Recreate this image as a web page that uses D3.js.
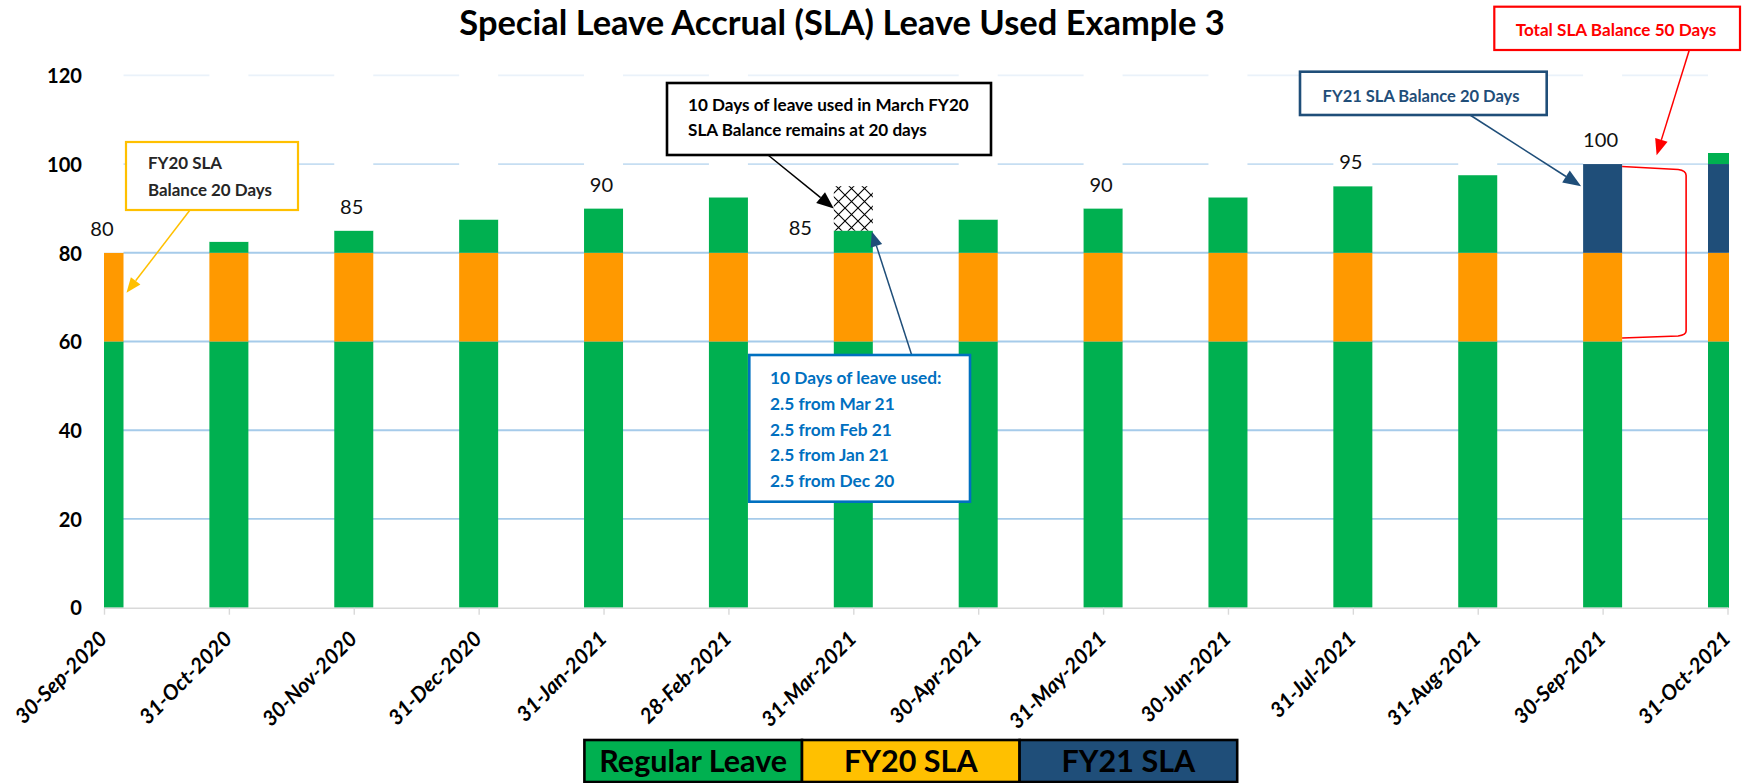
<!DOCTYPE html>
<html><head><meta charset="utf-8">
<script src="https://cdn.jsdelivr.net/npm/d3@7"></script>
<style>
html,body{margin:0;padding:0;background:#fff;}
svg{display:block;font-family:Lato,'Open Sans',sans-serif;}
</style></head><body>
<svg id="chart" width="1752" height="783"></svg>
<script>
// ---------- data ----------
const categories = ['30-Sep-2020','31-Oct-2020','30-Nov-2020','31-Dec-2020','31-Jan-2021','28-Feb-2021','31-Mar-2021','30-Apr-2021','31-May-2021','30-Jun-2021','31-Jul-2021','31-Aug-2021','30-Sep-2021','31-Oct-2021'];
const regularBase    = [60,60,60,60,60,60,60,60,60,60,60,60,60,60];
const fy20SLA        = [20,20,20,20,20,20,20,20,20,20,20,20,20,20];
const fy21SLA        = [0,0,0,0,0,0,0,0,0,0,0,0,20,20];
const regularAccrued = [0,2.5,5,7.5,10,12.5,5,7.5,10,12.5,15,17.5,0,2.5];
const leaveUsed      = [0,0,0,0,0,0,10,0,0,0,0,0,0,0];
const totalLabels    = [80,null,85,null,90,null,85,null,90,null,95,null,100,null];
const yTicks = [0,20,40,60,80,100,120];
const legendNames = ['Regular Leave','FY20 SLA','FY21 SLA'];
const titleText = 'Special Leave Accrual (SLA) Leave Used Example 3';

// ---------- setup ----------
const svg = d3.select('#chart');
const left = 104, right = 1727.5, bottomY = 607.7, topY = 75.3;
const bw = 39;
const x = d3.scalePoint().domain(categories).range([left, right]).padding(0);
const y = d3.scaleLinear().domain([0,120]).range([bottomY, topY]);

const C = {green:'#00B050', orange:'#FF9900', navy:'#1F4E79', gold:'#FFC000', blue:'#0070C0', red:'#FF0000'};

const defs = svg.append('defs');
defs.append('clipPath').attr('id','plotclip').append('rect')
  .attr('x',left).attr('y',0).attr('width',right-left+1.5).attr('height',783);
const pat = defs.append('pattern').attr('id','hatch').attr('patternUnits','userSpaceOnUse')
  .attr('width',13).attr('height',13).attr('x',0).attr('y',0);
pat.append('rect').attr('width',13).attr('height',13).attr('fill','#fff');
pat.append('path').attr('d','M0,0L13,13M13,0L0,13').attr('stroke','#000').attr('stroke-width',1.1);

function fit(sel, node, target){
  const fs = parseFloat(sel.attr('font-size'));
  const w = node.getComputedTextLength();
  sel.attr('font-size', fs*target/w);
}

// ---------- gridlines ----------
const gridColor = v => v===120 ? '#EAF2FA' : (v===100 ? '#C6DEF2' : '#A6CBEA');
svg.append('g').selectAll('line').data(yTicks.filter(v=>v>0)).join('line')
  .attr('x1',left).attr('x2',right).attr('y1',d=>y(d)).attr('y2',d=>y(d))
  .attr('stroke',gridColor).attr('stroke-width',1.8);

// ---------- stacked bars ----------
const rows = categories.map((c,i)=>({cat:c, base:regularBase[i], fy20:fy20SLA[i], fy21:fy21SLA[i], extra:regularAccrued[i], used:leaveUsed[i]}));
const keys = ['base','fy20','fy21','extra','used'];
const stacked = d3.stack().keys(keys)(rows);
const fills = {base:C.green, fy20:C.orange, fy21:C.navy, extra:C.green, used:'url(#hatch)'};
const barsG = svg.append('g').attr('clip-path','url(#plotclip)');
stacked.forEach(layer=>{
  barsG.append('g').selectAll('rect').data(layer.filter(d=>d[1]-d[0]>0)).join('rect')
    .attr('x',d=>x(d.data.cat)-bw/2).attr('width',bw)
    .attr('y',d=>y(d[1])).attr('height',d=>y(d[0])-y(d[1]))
    .attr('fill',fills[layer.key]);
});
// invisible (white) top series that hides gridlines above bars
barsG.append('g').selectAll('rect').data(rows.filter(r=>r.used===0)).join('rect')
  .attr('x',d=>x(d.cat)-bw/2).attr('width',bw)
  .attr('y',y(120)-3)
  .attr('height',d=>y(d.base+d.fy20+d.fy21+d.extra)-(y(120)-3))
  .attr('fill','#fff');

// ---------- axes ----------
const xAxis = svg.append('g').attr('transform',`translate(0,${bottomY})`)
  .call(d3.axisBottom(x).tickSize(7).tickSizeOuter(0));
xAxis.select('.domain').attr('stroke','#D9D9D9').attr('stroke-width',1.6);
xAxis.selectAll('.tick line').attr('stroke','#D9D9D9').attr('stroke-width',1.4);
const xl = xAxis.selectAll('.tick text')
  .attr('font-family','Lato, sans-serif').attr('font-weight','bold').attr('font-style','italic')
  .attr('font-size',20).attr('fill','#000')
  .attr('text-anchor','end').attr('dy',null).attr('y',null)
  .attr('transform','translate(4,32.5) rotate(-45)');
fit(xl, xl.nodes()[0], 120);

const yAxis = svg.append('g').attr('transform',`translate(${left},0)`)
  .call(d3.axisLeft(y).tickValues(yTicks).tickSize(0).tickPadding(22));
yAxis.select('.domain').remove();
const yl = yAxis.selectAll('.tick text')
  .attr('font-family','Lato, sans-serif').attr('font-weight','bold').attr('font-size',23).attr('fill','#000')
  .attr('dy','0.36em');
fit(yl, yl.nodes()[6], 35);

// ---------- value labels ----------
const lab = svg.append('g').selectAll('text')
  .data(rows.map((r,i)=>({r, v:totalLabels[i]})).filter(d=>d.v!==null)).join('text')
  .attr('x',d=> d.r.used>0 ? x(d.r.cat)-53 : x(d.r.cat)-2)
  .attr('y',d=> d.r.used>0 ? y(d.v)-3 : y(d.v)-24)
  .attr('dy','0.36em').attr('text-anchor','middle')
  .attr('font-size',22).attr('fill','#111')
  .text(d=>d.v);
fit(lab, lab.filter(d=>d.v===100).node(), 35);

// ---------- annotations ----------
const ann = svg.append('g');
function arrow(x1,y1,x2,y2,color,len,wid,sw){
  const a = Math.atan2(y2-y1,x2-x1);
  const bx = x2-len*Math.cos(a), by = y2-len*Math.sin(a);
  ann.append('line').attr('x1',x1).attr('y1',y1).attr('x2',bx).attr('y2',by)
    .attr('stroke',color).attr('stroke-width',sw);
  const px = -Math.sin(a)*wid/2, py = Math.cos(a)*wid/2;
  ann.append('path').attr('d',`M${x2},${y2}L${bx+px},${by+py}L${bx-px},${by-py}Z`).attr('fill',color);
}
function box(x0,y0,w,h,stroke,sw,lines,tx,baselines,color,anchor,longest,target){
  ann.append('rect').attr('x',x0).attr('y',y0).attr('width',w).attr('height',h)
    .attr('fill','#fff').attr('stroke',stroke).attr('stroke-width',sw);
  const t = ann.append('g').selectAll('text').data(lines).join('text')
    .attr('x',tx).attr('y',(d,i)=>baselines[i]).attr('text-anchor',anchor)
    .attr('font-weight','bold').attr('font-size',18).attr('fill',color).text(d=>d);
  fit(t, t.nodes()[longest], target);
}

// FY20 SLA callout
arrow(190,210, x(categories[0])+bw/2+3, y(71), C.gold, 15, 12, 1.5);
box(126,142,172,68,C.gold,2.2,['FY20 SLA','Balance 20 Days'],148,[169,195.7],'#262626','start',1,124);

// March usage callout (black)
arrow(768,155, x(categories[6])-bw/2, y(90), '#000', 17, 14, 1.5);
box(667,83,324,72,'#000',2.6,['10 Days of leave used in March FY20','SLA Balance remains at 20 days'],688,[110.7,136],'#000','start',0,281);

// Blue callout
arrow(911.7,355, x(categories[6])+bw/2-1, y(85)+1, C.navy, 15, 12, 1.5);
box(749.3,355,220.7,146.7,C.blue,2.6,['10 Days of leave used:','2.5 from Mar 21','2.5 from Feb 21','2.5 from Jan 21','2.5 from Dec 20'],770,[384.3,410,435.5,461,486.7],C.blue,'start',0,171.7);

// FY21 callout
arrow(1470,115, x(categories[12])-bw/2-2, y(95), C.navy, 18, 14, 1.5);
box(1300,71.7,246.7,43.3,C.navy,2.6,['FY21 SLA Balance 20 Days'],1421,[101.5],C.navy,'middle',0,197);

// Total callout (red)
arrow(1689.3,50, x(categories[12])+54, y(102), C.red, 16, 13, 1.5);
box(1494.3,6.7,245.7,43.3,C.red,2.2,['Total SLA Balance 50 Days'],1616,[35.7],C.red,'middle',0,200.7);

// bracket
const bx0 = x(categories[12])+bw/2, bx1 = bx0+64, bt = y(100)+2.5, bb = y(60)-3.5;
ann.append('path')
  .attr('d',`M${bx0},${bt}L${bx1-8},${bt+3}Q${bx1},${bt+4} ${bx1},${bt+9}L${bx1},${bb-7}Q${bx1},${bb-3} ${bx1-8},${bb-2}L${bx0},${bb}`)
  .attr('fill','none').attr('stroke',C.red).attr('stroke-width',1.6);

// ---------- legend ----------
const lg = svg.append('g');
const lx0 = 584.4, lw = 217.6, ly0 = 740, lh = 42;
const lcol = [C.green, C.gold, C.navy];
lg.selectAll('rect').data(legendNames).join('rect')
  .attr('x',(d,i)=>lx0+i*lw).attr('y',ly0).attr('width',lw).attr('height',lh)
  .attr('fill',(d,i)=>lcol[i]).attr('stroke','#000').attr('stroke-width',2.6);
const lt = lg.selectAll('text').data(legendNames).join('text')
  .attr('x',(d,i)=>lx0+i*lw+lw/2).attr('y',771.7).attr('text-anchor','middle')
  .attr('font-weight','bold').attr('font-size',28).attr('fill','#000').text(d=>d);
fit(lt, lt.nodes()[0], 188);

// ---------- title (kept fully inside the picture) ----------
const tt = svg.append('text').attr('x',842).attr('y',30).attr('text-anchor','middle')
  .attr('font-weight','bold').attr('font-size',32).attr('fill','#000').text(titleText);
fit(tt, tt.node(), 765.5);
const tb = tt.node().getBBox();
if (tb.y < 1) tt.attr('y', 30 + (1 - tb.y));
</script>
</body></html>
